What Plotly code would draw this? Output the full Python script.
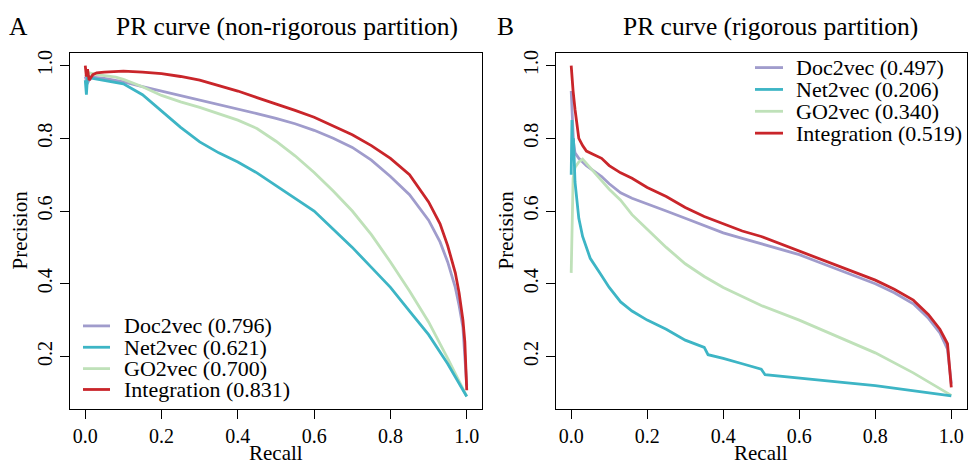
import plotly.graph_objects as go

W, H = 968, 464
FONT = "Liberation Serif"

# ---------------- Panel A (non-rigorous partition) ----------------
a_doc_recall = [0, 0.005, 0.01, 0.02, 0.05, 0.1, 0.15, 0.2, 0.25, 0.3, 0.35, 0.4, 0.45, 0.5, 0.55,
                0.6, 0.65, 0.7, 0.75, 0.8, 0.85, 0.9, 0.93, 0.95, 0.97, 0.98, 0.99, 1.0]
a_doc_prec = [0.97, 0.95, 0.96, 0.968, 0.965, 0.955, 0.942, 0.93, 0.918, 0.905, 0.892, 0.88, 0.868,
              0.855, 0.84, 0.822, 0.8, 0.775, 0.74, 0.695, 0.645, 0.575, 0.515, 0.46, 0.39, 0.34, 0.28, 0.12]

a_net_recall = [0, 0.003, 0.006, 0.01, 0.02, 0.05, 0.1, 0.15, 0.2, 0.25, 0.3, 0.35, 0.4, 0.45, 0.5,
                0.55, 0.6, 0.65, 0.7, 0.75, 0.8, 0.85, 0.9, 0.95, 1.0]
a_net_prec = [0.96, 0.92, 0.97, 0.97, 0.965, 0.96, 0.95, 0.92, 0.875, 0.83, 0.79, 0.76, 0.735, 0.705,
              0.67, 0.635, 0.6, 0.55, 0.5, 0.445, 0.39, 0.325, 0.26, 0.18, 0.09]

a_go_recall = [0, 0.01, 0.03, 0.05, 0.08, 0.1, 0.15, 0.2, 0.25, 0.3, 0.35, 0.4, 0.45, 0.5, 0.55,
               0.6, 0.65, 0.7, 0.75, 0.8, 0.85, 0.9, 0.95, 0.98, 1.0]
a_go_prec = [0.97, 0.98, 0.975, 0.972, 0.968, 0.962, 0.942, 0.918, 0.9, 0.885, 0.868, 0.85, 0.827,
             0.792, 0.752, 0.706, 0.655, 0.6, 0.535, 0.46, 0.38, 0.295, 0.195, 0.13, 0.09]

a_int_recall = [0, 0.003, 0.006, 0.01, 0.02, 0.03, 0.05, 0.1, 0.15, 0.2, 0.25, 0.3, 0.35, 0.4, 0.45,
                0.5, 0.55, 0.6, 0.65, 0.7, 0.75, 0.8, 0.85, 0.9, 0.93, 0.95, 0.97, 0.98, 0.99, 0.995, 1.0]
a_int_prec = [1.0, 0.97, 0.99, 0.96, 0.975, 0.98, 0.982, 0.985, 0.982, 0.978, 0.97, 0.96, 0.945, 0.93,
              0.912, 0.895, 0.877, 0.858, 0.835, 0.81, 0.78, 0.745, 0.7, 0.625, 0.565, 0.505, 0.43, 0.375,
              0.3, 0.24, 0.107]

# ---------------- Panel B (rigorous partition) ----------------
b_doc_recall = [0, 0.003, 0.006, 0.01, 0.02, 0.03, 0.04, 0.06, 0.08, 0.1, 0.13, 0.16, 0.2, 0.25, 0.3,
                0.35, 0.4, 0.45, 0.5, 0.55, 0.6, 0.65, 0.7, 0.75, 0.8, 0.85, 0.9, 0.94, 0.97, 0.99, 1.0]
b_doc_prec = [0.93, 0.85, 0.79, 0.76, 0.745, 0.735, 0.725, 0.71, 0.695, 0.675, 0.65, 0.635, 0.62, 0.6,
              0.58, 0.56, 0.54, 0.525, 0.51, 0.495, 0.48, 0.46, 0.44, 0.42, 0.4, 0.375, 0.345, 0.305,
              0.265, 0.22, 0.125]

b_net_recall = [0, 0.002, 0.004, 0.006, 0.01, 0.015, 0.02, 0.03, 0.05, 0.075, 0.1, 0.13, 0.16, 0.2,
                0.25, 0.3, 0.35, 0.36, 0.4, 0.45, 0.5, 0.51, 0.6, 0.7, 0.8, 0.9, 1.0]
b_net_prec = [0.7, 0.85, 0.76, 0.8, 0.68, 0.62, 0.58, 0.53, 0.47, 0.43, 0.39, 0.35, 0.325, 0.3, 0.275,
              0.245, 0.225, 0.205, 0.195, 0.18, 0.165, 0.15, 0.14, 0.13, 0.12, 0.107, 0.092]

b_go_recall = [0, 0.002, 0.005, 0.01, 0.02, 0.03, 0.05, 0.075, 0.1, 0.13, 0.16, 0.2, 0.25, 0.3, 0.35,
               0.4, 0.5, 0.6, 0.7, 0.8, 0.9, 1.0]
b_go_prec = [0.43, 0.6, 0.69, 0.72, 0.735, 0.743, 0.72, 0.69, 0.66, 0.63, 0.59, 0.55, 0.5, 0.455, 0.42,
             0.39, 0.34, 0.3, 0.255, 0.21, 0.155, 0.093]

b_int_recall = [0, 0.002, 0.005, 0.01, 0.015, 0.02, 0.03, 0.04, 0.06, 0.08, 0.1, 0.13, 0.16, 0.2, 0.25,
                0.3, 0.35, 0.4, 0.45, 0.5, 0.55, 0.6, 0.65, 0.7, 0.75, 0.8, 0.85, 0.9, 0.94, 0.97, 0.99, 1.0]
b_int_prec = [1.0, 0.96, 0.93, 0.88, 0.84, 0.8, 0.78, 0.765, 0.755, 0.745, 0.725, 0.705, 0.69, 0.665,
              0.64, 0.61, 0.585, 0.565, 0.545, 0.53, 0.51, 0.49, 0.47, 0.45, 0.43, 0.41, 0.385, 0.355,
              0.315, 0.275, 0.235, 0.115]

method_names = ["Doc2vec", "Net2vec", "GO2vec", "Integration"]
auc_A = ["0.796", "0.621", "0.700", "0.831"]
auc_B = ["0.497", "0.206", "0.340", "0.519"]
colors = ["#A09CCC", "#3DB5C5", "#BFE1B9", "#C9252A"]

tick_vals = [0.0, 0.2, 0.4, 0.6, 0.8, 1.0]
tick_text = ["0.0", "0.2", "0.4", "0.6", "0.8", "1.0"]
ytick_vals = [0.2, 0.4, 0.6, 0.8, 1.0]
ytick_text = ["0.2", "0.4", "0.6", "0.8", "1.0"]

panel_A = [(a_doc_recall, a_doc_prec), (a_net_recall, a_net_prec),
           (a_go_recall, a_go_prec), (a_int_recall, a_int_prec)]
panel_B = [(b_doc_recall, b_doc_prec), (b_net_recall, b_net_prec),
           (b_go_recall, b_go_prec), (b_int_recall, b_int_prec)]

fig = go.Figure()
draw_order = [0, 2, 1, 3]
for i in draw_order:
    r, p = panel_A[i]
    fig.add_trace(go.Scatter(x=r, y=p, mode="lines", name=method_names[i],
                             line=dict(color=colors[i], width=2.8), xaxis="x", yaxis="y",
                             showlegend=False, hoverinfo="skip"))
for i in draw_order:
    r, p = panel_B[i]
    fig.add_trace(go.Scatter(x=r, y=p, mode="lines", name=method_names[i],
                             line=dict(color=colors[i], width=2.8), xaxis="x2", yaxis="y2",
                             showlegend=False, hoverinfo="skip"))

ydom = [1 - 408.5 / H, 1 - 50 / H]
common_x = dict(range=[-0.04, 1.04], tickvals=tick_vals, ticktext=tick_text, showline=True,
                mirror=True, linecolor="black", linewidth=1.3, ticks="outside", ticklen=9,
                tickwidth=1.3, tickcolor="black", showgrid=False, zeroline=False,
                tickfont=dict(family=FONT, size=20, color="black"))
common_y = dict(range=[0.056, 1.0355], tickvals=ytick_vals, ticktext=ytick_text, showline=True,
                mirror=True, linecolor="black", linewidth=1.3, ticks="outside", ticklen=9,
                tickwidth=1.3, tickcolor="black", showgrid=False, zeroline=False, tickangle=-90,
                tickfont=dict(family=FONT, size=20, color="black"), domain=ydom)

fig.update_layout(
    width=W, height=H, margin=dict(l=0, r=0, t=0, b=0),
    paper_bgcolor="white", plot_bgcolor="white", showlegend=False,
    xaxis=dict(domain=[70 / W, 482 / W], anchor="y", **common_x),
    yaxis=dict(anchor="x", **common_y),
    xaxis2=dict(domain=[556 / W, 966.5 / W], anchor="y2", **common_x),
    yaxis2=dict(anchor="x2", **common_y),
)

ann = []
def txt(x, y, s, size, xanchor="center", angle=0):
    ann.append(dict(x=x / W, y=1 - y / H, xref="paper", yref="paper", text=s, showarrow=False,
                    xanchor=xanchor, yanchor="middle", textangle=angle,
                    font=dict(family=FONT, size=size, color="black")))

txt(18, 24, "A", 25.5)
txt(287, 24, "PR curve (non-rigorous partition)", 25.5)
txt(505, 24, "B", 25.5)
txt(770, 24, "PR curve (rigorous partition)", 25.5)
txt(276, 453, "Recall", 21)
txt(761, 453, "Recall", 21)
txt(20, 229, "Precision", 21, angle=-90)
txt(506, 229, "Precision", 21, angle=-90)

shapes = []
legA_rows = [325, 346.5, 368, 389]
legB_rows = [65, 87, 109, 131]
for i in range(4):
    shapes.append(dict(type="line", xref="paper", yref="paper", x0=83 / W, x1=110 / W,
                       y0=1 - legA_rows[i] / H, y1=1 - legA_rows[i] / H,
                       line=dict(color=colors[i], width=2.8)))
    txt(122, legA_rows[i], f"{method_names[i]} ({auc_A[i]})", 22)
    shapes.append(dict(type="line", xref="paper", yref="paper", x0=755 / W, x1=783 / W,
                       y0=1 - legB_rows[i] / H, y1=1 - legB_rows[i] / H,
                       line=dict(color=colors[i], width=2.8)))
    txt(794, legB_rows[i], f"{method_names[i]} ({auc_B[i]})", 22)

for a in ann:
    if "(" in a["text"] and "PR" not in a["text"]:
        a["xanchor"] = "left"

fig.update_layout(annotations=ann, shapes=shapes)
fig.write_html("out.html", config={"displayModeBar": False},
               post_script="document.body.style.margin='0';document.body.style.padding='0';"
                           "document.body.style.overflow='hidden';")
